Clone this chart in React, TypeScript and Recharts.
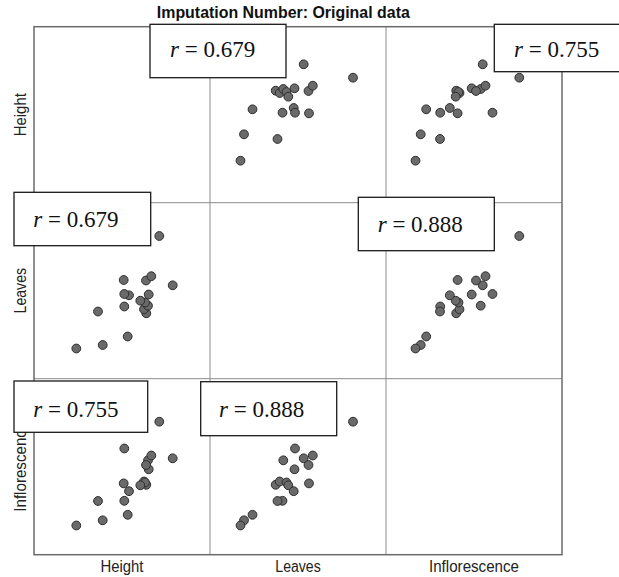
import React from "react";
import { ScatterChart, Scatter, XAxis, YAxis } from "recharts";

// Variables shown in the scatterplot matrix, in row/column order
const variables = ["Height", "Leaves", "Inflorescence"];

// One value per plant for each variable
const height = [138.7, 125.3, 112.3, 110, 114, 111, 106.3, 114.7, 112, 117.3, 93.7, 90.3, 95, 90.3, 89.7, 68.7, 64, 42.3];
const leaves = [93.7, 143, 65.7, 69.7, 73.3, 76.5, 78.3, 84.5, 98.5, 102.8, 42.5, 72.5, 83.7, 85, 99, 34, 67.5, 30.5];
const inflorescence = [96.7, 133.3, 70.2, 73.5, 94.7, 72.5, 69.7, 85.7, 90, 99.5, 40.2, 54.2, 63.8, 106.5, 71.6, 34.7, 54, 29.5];

// Pairwise Pearson correlations
const rHeightLeaves = "0.679";
const rHeightInflorescence = "0.755";
const rLeavesInflorescence = "0.888";

const title = "Imputation Number: Original data";

const series = [height, leaves, inflorescence];
const axisDomain: [number, number] = [0, 176];

// Layout
const W = 619;
const H = 577;
const GRID_LEFT = 34;
const GRID_TOP = 26.7;
const CELL = 176;

const SANS = "'Liberation Sans', Arial, Helvetica, sans-serif";
const SERIF = "'Liberation Serif', 'Times New Roman', Times, serif";

// Annotation boxes: [row, col, r, box x, box y, box w, box h, text x, baseline]
const boxes: [number, number, string, number, number, number, number, number, number][] = [
  [0, 1, rHeightLeaves, 150, 24.3, 136, 53.4, 170, 57.3],
  [0, 2, rHeightInflorescence, 494.3, 24.3, 130, 47.4, 514, 57.3],
  [1, 0, rHeightLeaves, 14, 192.3, 136.7, 53.4, 33.3, 226.7],
  [1, 2, rLeavesInflorescence, 358.3, 197.3, 136, 53.4, 377.7, 231.7],
  [2, 0, rHeightInflorescence, 14, 381, 133.7, 51.3, 33.3, 416.7],
  [2, 1, rLeavesInflorescence, 200.7, 381.7, 136, 54, 219, 416.7],
];

const labelLengths = [43, 45.4, 90];

const Dot = (props: any) => (
  <circle cx={props.cx} cy={props.cy} r={4.4} fill="#6a6a6a" stroke="#2e2e2e" strokeWidth={1} />
);

function MatrixCell({ row, col }: { row: number; col: number }) {
  const xs = series[col];
  const ys = series[row];
  const points = xs.map((x, i) => ({ x, y: ys[i] }));
  return (
    <div
      style={{
        position: "absolute",
        left: GRID_LEFT + col * CELL,
        top: GRID_TOP + row * CELL,
        width: CELL,
        height: CELL,
      }}
    >
      <ScatterChart width={CELL} height={CELL} margin={{ top: 0, right: 0, bottom: 0, left: 0 }}>
        <XAxis type="number" dataKey="x" domain={axisDomain} hide />
        <YAxis type="number" dataKey="y" domain={axisDomain} hide />
        <Scatter data={points} isAnimationActive={false} shape={Dot} />
      </ScatterChart>
    </div>
  );
}

export default function App() {
  const gridRight = GRID_LEFT + 3 * CELL;
  const gridBottom = GRID_TOP + 3 * CELL;
  const cells: { row: number; col: number }[] = [];
  for (let r = 0; r < 3; r++) for (let c = 0; c < 3; c++) if (r !== c) cells.push({ row: r, col: c });

  return (
    <div style={{ position: "absolute", left: 0, top: 0, width: W, height: H, background: "#fff", overflow: "hidden" }}>
      {/* frame and cell dividers */}
      <svg width={W} height={H} style={{ position: "absolute", left: 0, top: 0 }}>
        {[1, 2].map((k) => (
          <line key={"v" + k} x1={GRID_LEFT + k * CELL} x2={GRID_LEFT + k * CELL} y1={GRID_TOP} y2={gridBottom} stroke="#8c8c8c" strokeWidth={1} />
        ))}
        {[1, 2].map((k) => (
          <line key={"h" + k} x1={GRID_LEFT} x2={gridRight} y1={GRID_TOP + k * CELL} y2={GRID_TOP + k * CELL} stroke="#8c8c8c" strokeWidth={1} />
        ))}
        <rect x={GRID_LEFT} y={GRID_TOP} width={3 * CELL} height={3 * CELL} fill="none" stroke="#6a6a6a" strokeWidth={1.5} />
      </svg>

      {cells.map((c) => (
        <MatrixCell key={`${c.row}-${c.col}`} row={c.row} col={c.col} />
      ))}

      {/* titles, variable labels and correlation boxes */}
      <svg width={W} height={H} style={{ position: "absolute", left: 0, top: 0 }}>
        <text
          x={283.3}
          y={18}
          textAnchor="middle"
          fontFamily={SANS}
          fontWeight="bold"
          fontSize={16.5}
          textLength={253}
          lengthAdjust="spacingAndGlyphs"
          fill="#111"
        >
          {title}
        </text>
        {variables.map((v, i) => (
          <text
            key={"b" + v}
            x={GRID_LEFT + i * CELL + CELL / 2}
            y={572}
            textAnchor="middle"
            fontFamily={SANS}
            fontSize={16}
            textLength={labelLengths[i]}
            lengthAdjust="spacingAndGlyphs"
            fill="#222"
          >
            {v}
          </text>
        ))}
        {variables.map((v, i) => (
          <text
            key={"l" + v}
            transform={`translate(26.3, ${GRID_TOP + i * CELL + CELL / 2}) rotate(-90)`}
            textAnchor="middle"
            fontFamily={SANS}
            fontSize={16}
            textLength={labelLengths[i]}
            lengthAdjust="spacingAndGlyphs"
            fill="#222"
          >
            {v}
          </text>
        ))}
        {boxes.map(([row, col, r, bx, by, bw, bh, tx, ty]) => (
          <g key={`box-${row}-${col}`}>
            <rect x={bx} y={by} width={bw} height={bh} fill="#fff" stroke="#1a1a1a" strokeWidth={1.3} />
            <text x={tx} y={ty} fontFamily={SERIF} fontSize={23} fill="#111">
              <tspan fontStyle="italic">r</tspan>
              {" = " + r}
            </text>
          </g>
        ))}
      </svg>
    </div>
  );
}
